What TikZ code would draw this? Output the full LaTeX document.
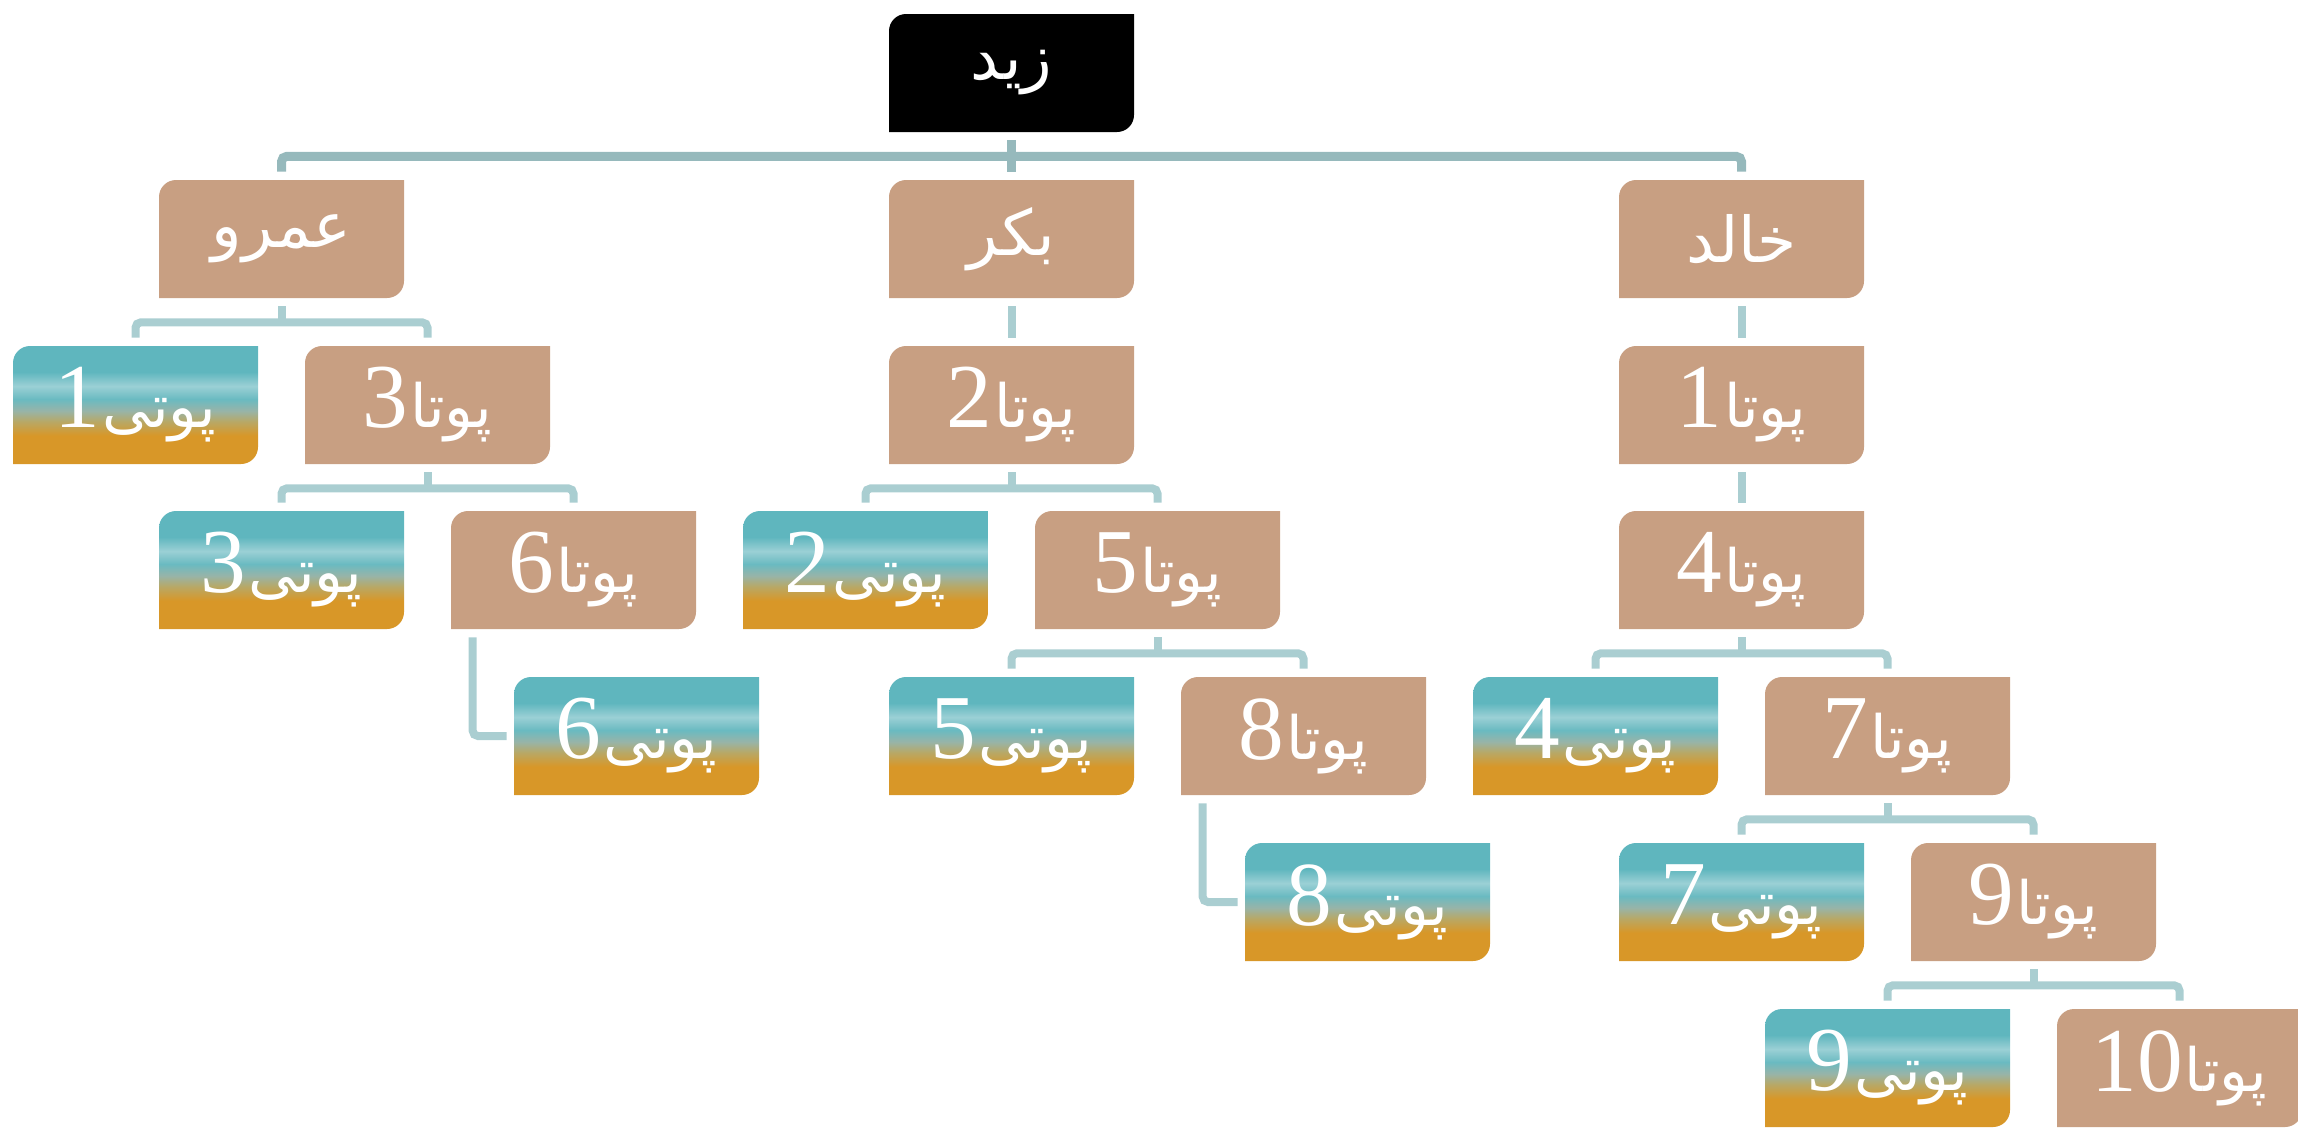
\documentclass[tikz,border=0pt]{standalone}
\usepackage{fontspec}
\TeXXeTstate=1
\newfontfamily\arabicfont[Script=Arabic]{DejaVu Sans}
\newfontfamily\numfont{Liberation Serif}
\usetikzlibrary{calc}
\definecolor{brownc}{RGB}{200,159,130}
\definecolor{orng}{RGB}{216,151,40}
\definecolor{khaki}{RGB}{184,168,102}
\definecolor{greyt}{RGB}{152,180,168}
\definecolor{teal2}{RGB}{106,186,193}
\definecolor{lteal}{RGB}{155,208,213}
\definecolor{teal1}{RGB}{95,182,190}
\definecolor{connA}{RGB}{150,185,188}
\definecolor{connB}{RGB}{170,206,209}
\pgfdeclareverticalshading{grand}{100bp}{color(0bp)=(orng); color(37bp)=(orng); color(43bp)=(khaki); color(47.5bp)=(greyt); color(52.5bp)=(teal2); color(58bp)=(lteal); color(64bp)=(teal1); color(100bp)=(teal1)}
\tikzset{
  brownfill/.style={fill=brownc},
  rootfill/.style={fill=black},
  gradfill/.style={shade, shading=grand},
  boxtxt/.style={text=white, inner sep=0pt, minimum width=4.9cm, minimum height=2.36cm},
  conn/.style={draw=connB, line width=0.16cm},
  mainconn/.style={draw=connA, line width=0.18cm}
}
\newcommand{\famnode}[5]{%
  \path[#4] (#2,#3+118) -- (#2,#3+17) .. controls (#2,#3+7.6) and (#2+7.6,#3) .. (#2+17,#3) -- (#2+245,#3) -- (#2+245,#3+101) .. controls (#2+245,#3+110.4) and (#2+237.4,#3+118) .. (#2+228,#3+118) -- cycle;
  \node[boxtxt] (#1) at (#2+122.5,#3+59) {#5};
}
\newcommand{\nm}[1]{{\fontsize{36pt}{42pt}\arabicfont\beginR #1\endR}}
\newcommand{\pota}[1]{{\fontsize{52pt}{60pt}\numfont #1}\kern1pt{\fontsize{34pt}{40pt}\arabicfont\beginR پوتا\endR}}
\newcommand{\poti}[1]{{\fontsize{52pt}{60pt}\numfont #1}\kern1pt{\fontsize{34pt}{40pt}\arabicfont\beginR پوتی\endR}}
\newcommand{\busto}[3]{%
  \draw[conn] ($(#1.south)+(0,8)$) -- ($(#1.south)+(0,24)$);
  \draw[conn, rounded corners=3pt] ($(#2.north)+(0,-8)$) |- ($(#1.south)+(0,24)$) -| ($(#3.north)+(0,-8)$);
}
\newcommand{\straight}[2]{%
  \draw[conn] ($(#1.south)+(0,8)$) -- ($(#2.north)+(0,-8)$);
}
\newcommand{\sidelink}[2]{%
  \draw[conn, rounded corners=3pt] ($(#1.south west)+(22,8)$) |- ($(#2.west)+(-7,0)$);
}
\begin{document}
\begin{tikzpicture}[x=0.02cm, y=-0.02cm]
\useasboundingbox (0,0) rectangle (2298,1127);
% nodes
\famnode{r}{889}{14}{rootfill}{\nm{زید}}
\famnode{amr}{159}{180}{brownfill}{\nm{عمرو}}
\famnode{bkr}{889}{180}{brownfill}{\nm{بکر}}
\famnode{khd}{1619}{180}{brownfill}{\nm{خالد}}
\famnode{g1}{13}{346}{gradfill}{\poti{1}}
\famnode{p3}{305}{346}{brownfill}{\pota{3}}
\famnode{p2}{889}{346}{brownfill}{\pota{2}}
\famnode{p1}{1619}{346}{brownfill}{\pota{1}}
\famnode{g3}{159}{511}{gradfill}{\poti{3}}
\famnode{p6}{451}{511}{brownfill}{\pota{6}}
\famnode{g2}{743}{511}{gradfill}{\poti{2}}
\famnode{p5}{1035}{511}{brownfill}{\pota{5}}
\famnode{p4}{1619}{511}{brownfill}{\pota{4}}
\famnode{g6}{514}{677}{gradfill}{\poti{6}}
\famnode{g5}{889}{677}{gradfill}{\poti{5}}
\famnode{p8}{1181}{677}{brownfill}{\pota{8}}
\famnode{g4}{1473}{677}{gradfill}{\poti{4}}
\famnode{p7}{1765}{677}{brownfill}{\pota{7}}
\famnode{g8}{1245}{843}{gradfill}{\poti{8}}
\famnode{g7}{1619}{843}{gradfill}{\poti{7}}
\famnode{p9}{1911}{843}{brownfill}{\pota{9}}
\famnode{g9}{1765}{1009}{gradfill}{\poti{9}}
\famnode{p10}{2057}{1009}{brownfill}{\pota{10}}
% connectors
\draw[mainconn] ($(r.south)+(0,8)$) -- ($(r.south)+(0,24)$);
\draw[mainconn, rounded corners=3pt] ($(amr.north)+(0,-8)$) |- ($(r.south)+(0,24)$) -| ($(khd.north)+(0,-8)$);
\draw[mainconn] ($(r.south)+(0,24)$) -- ($(bkr.north)+(0,-8)$);
\busto{amr}{g1}{p3}
\straight{bkr}{p2}
\straight{khd}{p1}
\busto{p3}{g3}{p6}
\busto{p2}{g2}{p5}
\straight{p1}{p4}
\sidelink{p6}{g6}
\busto{p5}{g5}{p8}
\busto{p4}{g4}{p7}
\sidelink{p8}{g8}
\busto{p7}{g7}{p9}
\busto{p9}{g9}{p10}
\end{tikzpicture}
\end{document}
